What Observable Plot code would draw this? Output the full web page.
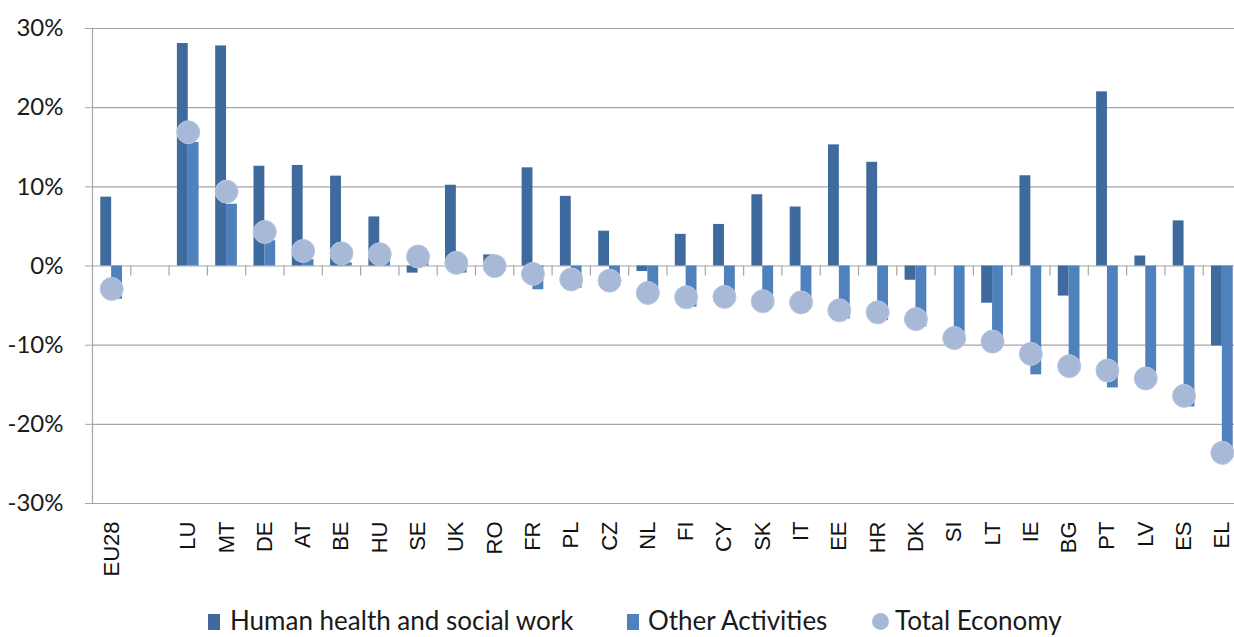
<!DOCTYPE html>
<html><head><meta charset="utf-8">
<script src="https://cdn.jsdelivr.net/npm/d3@7"></script>
<script src="https://cdn.jsdelivr.net/npm/@observablehq/plot@0.6"></script>
<style>
html,body{margin:0;padding:0;background:#fff;overflow:hidden;}
#wrap{position:relative;width:1234px;height:637px;}
#legend{position:absolute;top:604px;left:0;width:1234px;height:32px;font-family:Lato,"Open Sans",sans-serif;font-size:26px;color:#1a1a1a;}
.item{position:absolute;top:0;height:32px;line-height:32px;white-space:nowrap;}
.sw{position:absolute;}
</style></head><body><div id="wrap"><div id="chart"></div><div id="legend"></div></div>
<script>
const countries = ["EU28","LU","MT","DE","AT","BE","HU","SE","UK","RO","FR","PL","CZ","NL","FI","CY","SK","IT","EE","HR","DK","SI","LT","IE","BG","PT","LV","ES","EL"];
const health = [8.7,28.1,27.8,12.6,12.7,11.35,6.2,-0.9,10.2,1.4,12.4,8.8,4.4,-0.7,4.0,5.25,9.0,7.45,15.3,13.1,-1.8,0,-4.7,11.4,-3.8,22.0,1.26,5.7,-10.1];
const other = [-4.2,15.6,7.8,3.2,0.8,0.4,1.0,0.6,-0.9,0.5,-3.0,-2.8,-1.5,-3.6,-5.2,-4.4,-5.0,-5.1,-6.7,-6.9,-7.7,-8.7,-9.0,-13.75,-12.3,-15.4,-13.7,-17.8,-24.3];
const total = [-2.9,16.9,9.4,4.3,1.9,1.6,1.5,1.2,0.4,0.0,-1.0,-1.7,-1.85,-3.4,-3.95,-3.9,-4.45,-4.6,-5.6,-5.85,-6.7,-9.1,-9.55,-11.1,-12.65,-13.2,-14.2,-16.4,-23.6];
const xDomain = ["EU28"," "].concat(countries.slice(1));
const yTicks = [-30,-20,-10,0,10,20,30];
const seriesNames = ["Human health and social work","Other Activities","Total Economy"];
const colors = ["#3F6A9D","#4F81BD","#A8B9D8"];

const rows = countries.map((c,i)=>({country:c, health:health[i], other:other[i], total:total[i]}));

const W=1234, H=604, mL=92, mR=-7, mT=28, mB=101;
const step = (W - mR - mL)/xDomain.length;
const pad = 0.433;
const bw = step*(1-pad);
const gridColor = "#a6a6a6";

const chart = Plot.plot({
  width:W, height:H, marginLeft:mL, marginRight:mR, marginTop:mT, marginBottom:mB,
  style:{background:"white", color:"#1a1a1a"},
  x:{type:"band", domain:xDomain, paddingInner:pad, paddingOuter:pad/2, round:false, axis:null},
  y:{domain:[yTicks[0], yTicks[yTicks.length-1]], axis:null},
  marks:[
    Plot.gridY(yTicks, {stroke:gridColor, strokeOpacity:1, strokeWidth:1.2}),
    Plot.ruleX([xDomain[0]], {x:d=>d, dx:-step/2, y1:yTicks[0], y2:yTicks[yTicks.length-1], stroke:gridColor, strokeWidth:1.2}),
    Plot.ruleX(xDomain, {x:d=>d, dx:step/2, y1:0, y2:0, insetBottom:-10, stroke:gridColor, strokeWidth:1.2}),
    Plot.barY(rows, {x:"country", y:"health", fill:colors[0], insetRight:bw/2}),
    Plot.barY(rows, {x:"country", y:"other", fill:colors[1], insetLeft:bw/2}),
    Plot.dot(rows, {x:"country", y:"total", r:11.5, fill:colors[2], stroke:"#b8c6df", strokeWidth:1}),
    Plot.axisY(yTicks, {anchor:"left", label:null, tickSize:7, tickPadding:22, tickFormat:d=>d+"%", fontSize:24, fontFamily:"Lato", stroke:gridColor, fill:"#1a1a1a"}),
    Plot.axisX({anchor:"bottom", label:null, tickSize:0, tickRotate:-90, tickPadding:18, fontSize:22, fontFamily:"Liberation Sans", fill:"#111"})
  ]
});
document.getElementById("chart").appendChild(chart);

const legend = document.getElementById("legend");
const pos = [{sw:208, tx:230},{sw:627, tx:648},{sw:872, tx:895}];
seriesNames.forEach((name,i)=>{
  const sw = document.createElement("div");
  sw.className = "sw";
  if (i<2) {
    sw.style.cssText = `left:${pos[i].sw}px;top:10px;width:12px;height:16px;background:${colors[i]};`;
  } else {
    sw.style.cssText = `left:${pos[i].sw}px;top:9px;width:17px;height:17px;border-radius:50%;background:${colors[i]};`;
  }
  legend.appendChild(sw);
  const t = document.createElement("div");
  t.className = "item";
  t.style.left = pos[i].tx + "px";
  t.textContent = name;
  legend.appendChild(t);
});
</script></body></html>
